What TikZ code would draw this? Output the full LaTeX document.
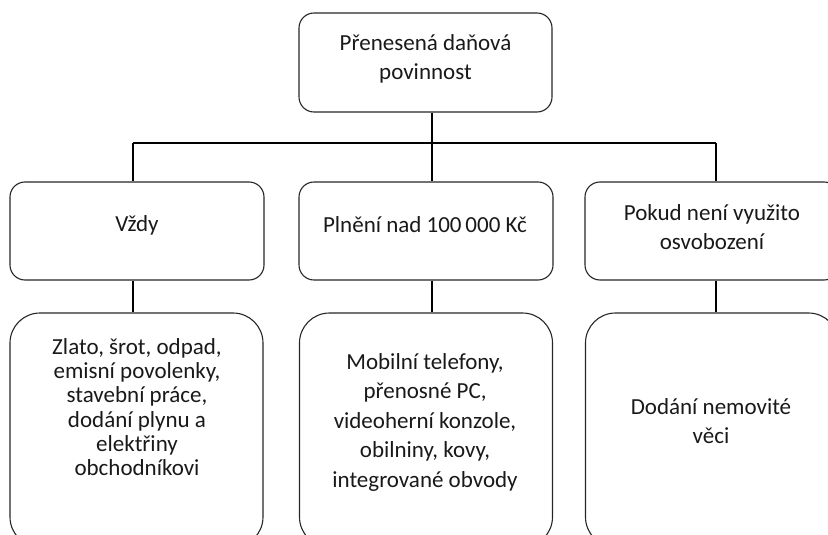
\documentclass[tikz,border=0pt]{standalone}
\usepackage{fontspec}
\setmainfont{Carlito}
\begin{document}
\begin{tikzpicture}[x=1pt,y=-1pt,
  box/.style={draw=black!85, line width=1.1pt, inner sep=0pt},
  topbox/.style={box, rounded corners=15pt, minimum width=253pt, minimum height=99pt},
  midbox/.style={box, rounded corners=15pt, minimum width=254pt, minimum height=98pt},
  lowbox/.style={box, rounded corners=30pt, minimum width=253pt, minimum height=234pt},
  txt/.style={align=center, font=\fontsize{23}{29.5}\selectfont, text=black!90},
  tighttxt/.style={align=center, font=\fontsize{23}{24.2}\selectfont, text=black!90},
  conn/.style={line width=1.1pt, black}]
\useasboundingbox (0,0) rectangle (828,535);
\clip (0,0) rectangle (828,535);
% boxes
\node[topbox] (top) at (425.5,62.5) {};
\node[midbox] (m1) at (137,231) {};
\node[midbox] (m2) at (426,231) {};
\node[midbox] (m3) at (712,231) {};
\node[lowbox] (b1) at (136.5,430) {};
\node[lowbox] (b2) at (426,430) {};
\node[lowbox] (b3) at (712,430) {};
% texts
\node[txt] (ttop) at (425.5,59) {Přenesená daňová\\povinnost};
\node[txt] (t1) at (137,225) {Vždy};
\node[txt] (t2) at (425,225) {Plnění nad 100\,000 Kč};
\node[txt] (t3) at (712,227) {Pokud není využito\\osvobození};
\node[tighttxt] (u1) at (137,407) {Zlato, šrot, odpad,\\emisní povolenky,\\stavební práce,\\dodání plynu a\\elektřiny\\obchodníkovi};
\node[txt] (u2) at (425,422) {Mobilní telefony,\\přenosné PC,\\videoherní konzole,\\obilniny, kovy,\\integrované obvody};
\node[txt] (u3) at (711,421) {Dodání nemovité\\věci};
% connectors
\coordinate (j) at (432,143);
\coordinate (hl) at (133,143);
\coordinate (hr) at (716,143);
\draw[conn] (top.south -| j) -- (j);
\draw[conn] (hl) -- (hr);
\draw[conn] (hl) -- (hl |- m1.north);
\draw[conn] (j) -- (j |- m2.north);
\draw[conn] (hr) -- (hr |- m3.north);
\draw[conn] (m1.south -| hl) -- (b1.north -| hl);
\draw[conn] (m2.south -| j) -- (b2.north -| j);
\draw[conn] (m3.south -| hr) -- (b3.north -| hr);
\end{tikzpicture}
\end{document}
